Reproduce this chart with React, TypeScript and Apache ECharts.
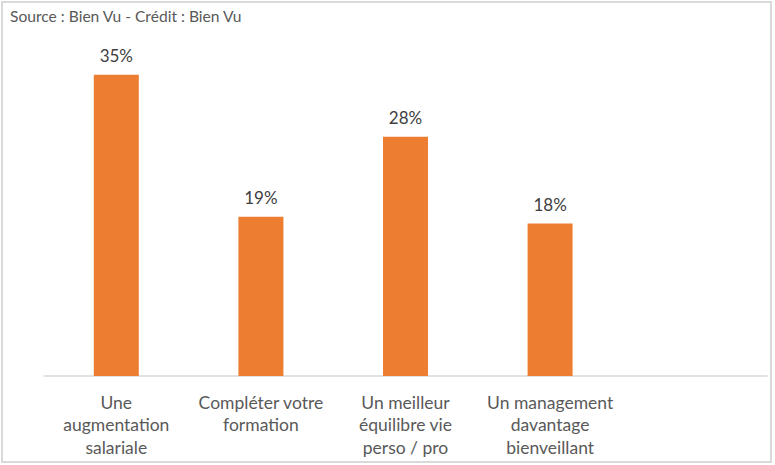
import React, { useEffect, useRef } from "react";
import * as echarts from "echarts";

const categories = [
  "Une\naugmentation\nsalariale",
  "Compléter votre\nformation",
  "Un meilleur\néquilibre vie\nperso / pro",
  "Un management\ndavantage\nbienveillant",
  "",
];
const values = [35, 18.5, 27.8, 17.7, null];
const sourceText = "Source : Bien Vu - Crédit : Bien Vu";

const FONT = "Lato, 'Open Sans', sans-serif";

export default function App() {
  const ref = useRef<HTMLDivElement>(null);
  useEffect(() => {
    if (!ref.current) return;
    const chart = echarts.init(ref.current, null, { renderer: "svg" });
    chart.setOption({
      animation: false,
      backgroundColor: "#ffffff",
      textStyle: { fontFamily: FONT },
      graphic: [
        {
          type: "rect",
          shape: { x: 2, y: 2, width: 769, height: 460 },
          style: { fill: "none", stroke: "#d9d9d9", lineWidth: 2 },
          silent: true,
        },
        {
          type: "text",
          left: 10,
          top: 8,
          style: {
            text: sourceText,
            fill: "#595959",
            fontSize: 15.6,
            fontFamily: FONT,
          },
        },
      ],
      grid: { left: 44, right: 8, top: 31.6, bottom: 89, containLabel: false },
      xAxis: {
        type: "category",
        data: categories,
        axisLine: { show: true, lineStyle: { color: "#d9d9d9", width: 1.5 } },
        axisTick: { show: false },
        axisLabel: {
          interval: 0,
          color: "#595959",
          fontSize: 17.5,
          lineHeight: 22.5,
          margin: 15,
          fontFamily: FONT,
        },
      },
      yAxis: {
        type: "value",
        min: 0,
        max: 40,
        show: false,
        splitLine: { show: false },
      },
      series: [
        {
          type: "bar",
          data: values,
          barWidth: 45,
          itemStyle: { color: "#ed7d31" },
          label: {
            show: true,
            position: "top",
            distance: 11,
            color: "#404040",
            fontSize: 17,
            fontFamily: FONT,
            formatter: (p: any) => Math.round(p.value) + "%",
          },
        },
      ],
    });
    return () => chart.dispose();
  }, []);
  return (
    <div
      ref={ref}
      style={{ position: "fixed", left: 0, top: 0, width: 775, height: 465 }}
    />
  );
}
